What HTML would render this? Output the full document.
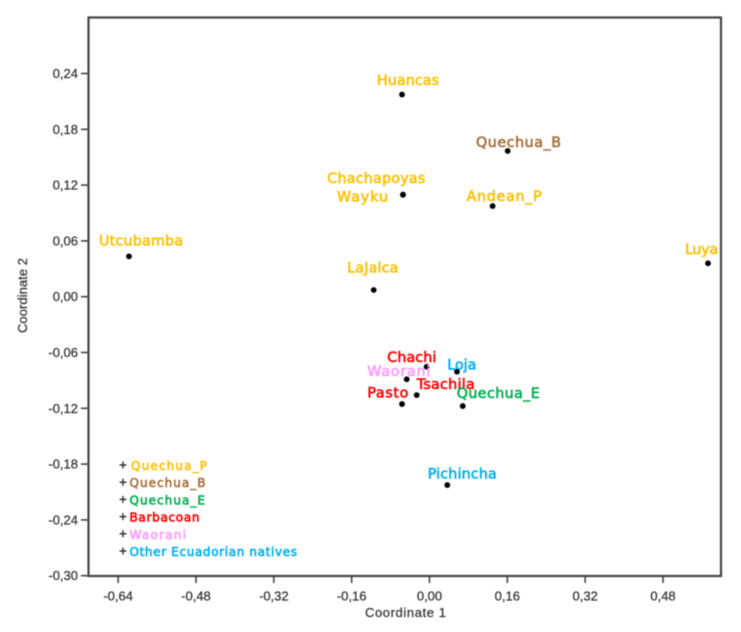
<!DOCTYPE html>
<html lang="en">
<head>
<meta charset="utf-8">
<title>Principal coordinates chart</title>
<style>
html,body{margin:0;padding:0;background:#fff;}
#chart{display:block;width:741px;height:632px;filter:blur(0.4px);}
.tick{font-family:"Liberation Sans",sans-serif;font-size:13px;fill:#333;stroke:#333;stroke-width:0.25px;}
.title{font-family:"Liberation Sans",sans-serif;font-size:13px;fill:#333;stroke:#333;stroke-width:0.25px;}
.lab{font-family:"DejaVu Sans",sans-serif;font-size:14.2px;stroke-width:0.6px;}
.leg{font-family:"DejaVu Sans",sans-serif;font-size:12px;stroke-width:0.6px;}
</style>
</head>
<body>
<svg id="chart" xmlns="http://www.w3.org/2000/svg" width="741" height="632" viewBox="0 0 741 632">
  <rect x="88.5" y="17.5" width="632.5" height="558.5" fill="#fff" stroke="#444" stroke-width="2.2"/>
  <g id="x-axis"></g>
  <g id="y-axis"></g>
  <text class="title" x="405.5" y="617" text-anchor="middle" textLength="81">Coordinate 1</text>
  <text class="title" x="-295.5" y="27" transform="rotate(-90)" text-anchor="middle" textLength="75">Coordinate 2</text>
  <g id="points"></g>
  <g id="legend"></g>
</svg>
<script>
const xTicks = [-0.64, -0.48, -0.32, -0.16, 0, 0.16, 0.32, 0.48];
const yTicks = [-0.30, -0.24, -0.18, -0.12, -0.06, 0, 0.06, 0.12, 0.18, 0.24];
const names = ["Huancas","Quechua_B","Andean_P","Luya","Chachapoyas","Wayku","Utcubamba","LaJalca","Chachi","Loja","Waorani","Tsachila","Pasto","Quechua_E","Pichincha"];
const coord1 = [-0.0565,0.1607,0.1297,0.5725,-0.0545,-0.0545,-0.6177,-0.1147,-0.0058,0.0565,-0.0469,-0.0263,-0.0565,0.0683,0.0366];
const coord2 = [0.2174,0.1567,0.0975,0.0359,0.1099,0.1095,0.0434,0.0072,-0.0753,-0.0806,-0.0888,-0.1058,-0.1154,-0.1176,-0.2025];
const groups = ["Quechua_P","Quechua_B","Quechua_P","Quechua_P","Quechua_P","Quechua_P","Quechua_P","Quechua_P","Barbacoan","Other Ecuadorian natives","Waorani","Barbacoan","Barbacoan","Quechua_E","Other Ecuadorian natives"];
const legendEntries = ["Quechua_P","Quechua_B","Quechua_E","Barbacoan","Waorani","Other Ecuadorian natives"];

const groupColors = {"Quechua_P":"#FFC000","Quechua_B":"#A8703C","Quechua_E":"#00B050","Barbacoan":"#FF0000","Waorani":"#FF99FF","Other Ecuadorian natives":"#00B0F0"};
// Label placement relative to each point: left offset, baseline offset, drawn width
const labelPlacement = {
  "Huancas":[-25,-9.5,62],"Quechua_B":[-31.7,-4,85],"Andean_P":[-26,-5,75],"Luya":[-23,-9.3,33],
  "Chachapoyas":[-75.7,-11.5,98],"Wayku":[-66,6.5,51],"Utcubamba":[-30,-10.6,84],"LaJalca":[-26.4,-17.3,51],
  "Chachi":[-39.4,-4.7,49],"Loja":[-9.7,-2.4,29],"Waorani":[-39.4,-3.3,63],"Tsachila":[0,-6.3,58],
  "Pasto":[-34.7,-6.3,41],"Quechua_E":[-6,-8,83],"Pichincha":[-19.6,-6.3,69]
};

const NS = "http://www.w3.org/2000/svg";
const sx = v => 429.5 + 486.5 * v;
const sy = v => 296.7 - 930 * v;
const fmt = v => v.toFixed(2).replace(".", ",");
function mk(tag, parent, attrs, text) {
  const el = document.createElementNS(NS, tag);
  for (const k in attrs) el.setAttribute(k, attrs[k]);
  if (text !== undefined) el.textContent = text;
  parent.appendChild(el);
  return el;
}

const xAxis = document.getElementById("x-axis");
xTicks.forEach(v => {
  const t = mk("line", xAxis, {x1:sx(v), x2:sx(v), y1:576, y2:583, stroke:"#444", "stroke-width":1.6});
  
  
  const l = mk("text", xAxis, {class:"tick", x:sx(v), y:600.5, "text-anchor":"middle"}, fmt(v));
  
  
});

const yAxis = document.getElementById("y-axis");
yTicks.forEach(v => {
  const t = mk("line", yAxis, {x1:81, x2:88.5, y1:sy(v), y2:sy(v), stroke:"#444", "stroke-width":1.6});
  
  
  const l = mk("text", yAxis, {class:"tick", x:78, y:sy(v)+4.5, "text-anchor":"end"}, fmt(v));
  
  
});

const pts = document.getElementById("points");
names.forEach((n, i) => {
  const px = sx(coord1[i]), py = sy(coord2[i]);
  const c = mk("circle", pts, {cx:px, cy:py, r:2.9, fill:"#000"});
  
  
});
names.forEach((n, i) => {
  const px = sx(coord1[i]), py = sy(coord2[i]);
  const p = labelPlacement[n];
  const col = groupColors[groups[i]];
  const l = mk("text", pts, {class:"lab", x:px+p[0], y:py+p[1], fill:col, stroke:col, textLength:p[2], lengthAdjust:"spacing"}, n);
  
  
});

const legend = document.getElementById("legend");
const legendRowHeight = 17.2;
const legendWidths = {"Quechua_P":76,"Quechua_B":76,"Quechua_E":75.5,"Barbacoan":70,"Waorani":56.5,"Other Ecuadorian natives":167.5};
legendEntries.forEach((g, i) => {
  const by = 470 + i * legendRowHeight;
  const h = mk("line", legend, {x1:119.5, x2:126.5, y1:by-5, y2:by-5, stroke:"#222", "stroke-width":1.3});
  
  
  const v = mk("line", legend, {x1:123, x2:123, y1:by-8.5, y2:by-1.5, stroke:"#222", "stroke-width":1.3});
  
  
  const col = groupColors[g];
  const t = mk("text", legend, {class:"leg", x:i === 0 ? 131 : 129.5, y:by, fill:col, stroke:col, textLength:legendWidths[g], lengthAdjust:"spacing"}, g);
  
  
});
</script>
</body>
</html>
